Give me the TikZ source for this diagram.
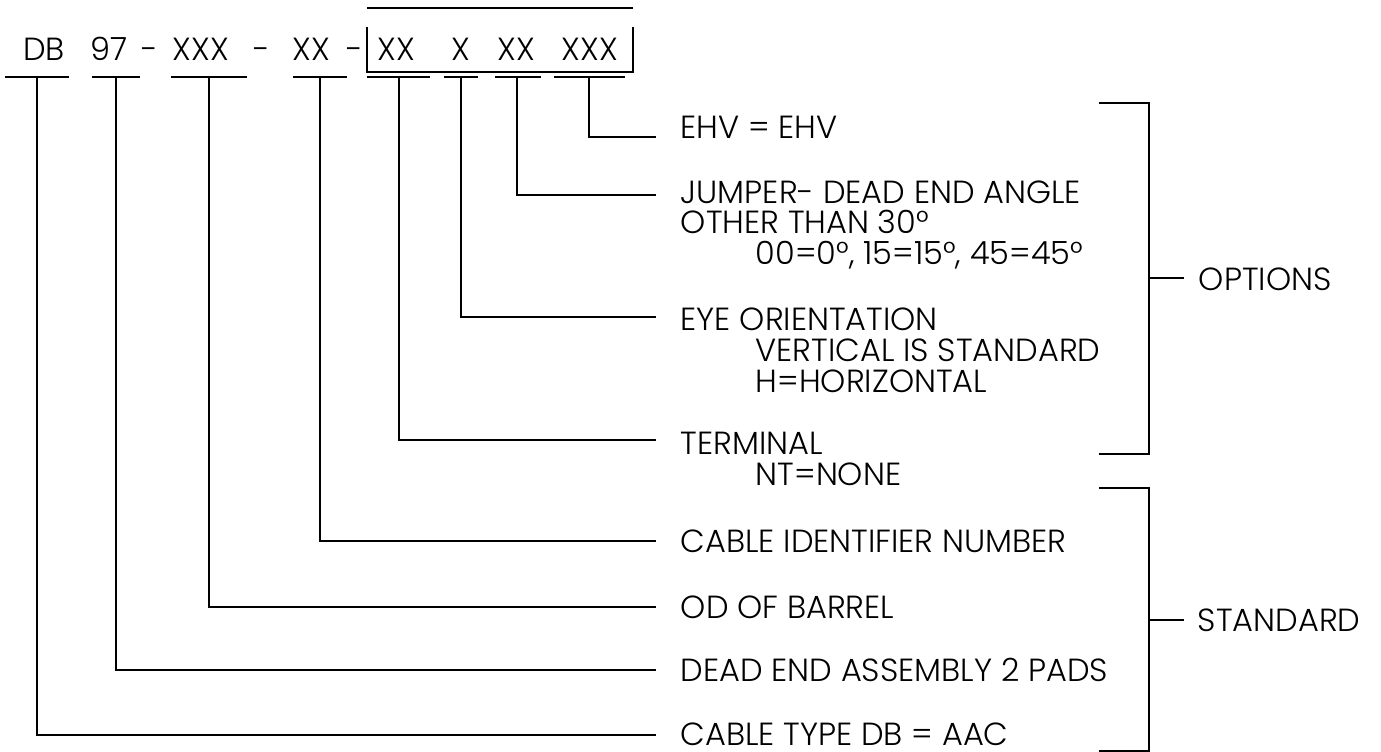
\documentclass[tikz,border=0pt]{standalone}
\usepackage{fontspec}
\IfFontExistsTF{Poppins Light}{\setmainfont{Poppins Light}}{\setmainfont{Poppins}}
\newcommand\labfont{\fontsize{32}{36}\selectfont}
\begin{document}
\begin{tikzpicture}[x=1pt,y=-1pt,line width=1.6pt,
  lbl/.style={font=\labfont,inner sep=0pt,anchor=base west},
  code/.style={font=\labfont,inner sep=0pt,anchor=base}]
\useasboundingbox (0,0) rectangle (1381,752);

% code row
\node[code] (tDB) at (44,61) {DB};
\node[code] (t97) at (109,61) {97};
\node[code] (h1) at (150,61) {-};
\node[code] (tX3) at (201,61) {XXX};
\node[code] (h2) at (262,61) {-};
\node[code] (tX2) at (311,61) {XX};
\node[code] (h3) at (355,61) {-};
\node[code] (oA) at (396,61) {XX};
\node[code] (oB) at (461,61) {X};
\node[code] (oC) at (516,61) {XX};
\node[code] (oD) at (590,61) {XXX};

% box and overline
\draw (367,27) -- (367,72) -- (633,72) -- (633,27);
\draw (367,8) -- (633,8);

% underlines
\draw (5,77) -- (69,77);
\draw (92,77) -- (140,77);
\draw (171,77) -- (247,77);
\draw (293,77) -- (347,77);
\draw (367,77) -- (430,77);
\draw (444,77) -- (478,77);
\draw (495,77) -- (541,77);
\draw (554,77) -- (625,77);

% underline centres
\coordinate (u1) at (37,77);
\coordinate (u2) at (116,77);
\coordinate (u3) at (209,77);
\coordinate (u4) at (320,77);
\coordinate (u5) at (399,77);
\coordinate (u6) at (461,77);
\coordinate (u7) at (517,77);
\coordinate (u8) at (589,77);

% leader ends
\coordinate (e1) at (656,735);
\coordinate (e2) at (656,670);
\coordinate (e3) at (656,607);
\coordinate (e4) at (656,541);
\coordinate (e5) at (656,440);
\coordinate (e6) at (656,317);
\coordinate (e7) at (656,195);
\coordinate (e8) at (656,137);

\draw (u1) |- (e1);
\draw (u2) |- (e2);
\draw (u3) |- (e3);
\draw (u4) |- (e4);
\draw (u5) |- (e5);
\draw (u6) |- (e6);
\draw (u7) |- (e7);
\draw (u8) |- (e8);

% labels
\node[lbl] (ehv) at (680,138) {EHV = EHV};
\node[lbl] (jmp1) at (680,203) {JUMPER- DEAD END ANGLE};
\node[lbl] (jmp2) at (680,233) {OTHER THAN 30°};
\node[lbl] (jmp3) at (755,264) {00=0°, 15=15°, 45=45°};
\node[lbl] (eye1) at (680,330) {EYE ORIENTATION};
\node[lbl] (eye2) at (755,361) {VERTICAL IS STANDARD};
\node[lbl] (eye3) at (755,392) {H=HORIZONTAL};
\node[lbl] (term1) at (680,454) {TERMINAL};
\node[lbl] (term2) at (755,485) {NT=NONE};
\node[lbl] (cid) at (680,552) {CABLE IDENTIFIER NUMBER};
\node[lbl] (od) at (680,618) {OD OF BARREL};
\node[lbl] (dea) at (680,681) {DEAD END ASSEMBLY 2 PADS};
\node[lbl] (ctype) at (680,745) {CABLE TYPE DB = AAC};

% brackets
\draw (1099,103) -- (1149,103) -- (1149,454) -- (1099,454);
\coordinate (ob) at (1149,278);
\node[lbl] (opt) at (1198,290) {OPTIONS};
\draw (ob) -- ++(35,0);
\draw (1099,488) -- (1149,488) -- (1149,751) -- (1099,751);
\coordinate (sb) at (1149,620);
\node[lbl] (std) at (1197,631) {STANDARD};
\draw (sb) -- ++(35,0);
\end{tikzpicture}
\end{document}
